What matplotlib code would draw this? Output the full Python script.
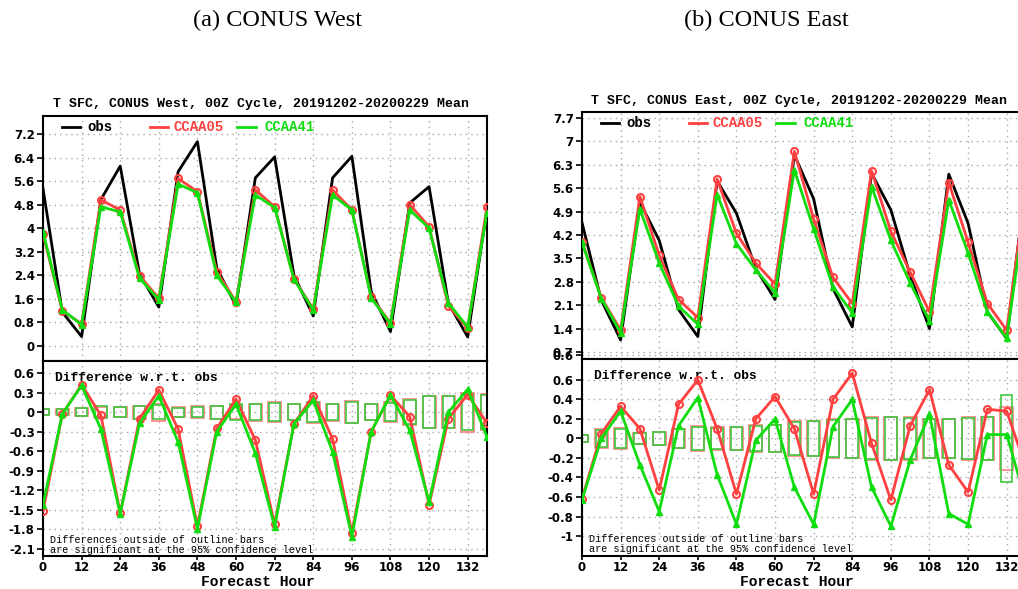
import numpy as np
import matplotlib
matplotlib.use("Agg")
import matplotlib.pyplot as plt
from matplotlib.patches import Rectangle

plt.rcParams['axes.unicode_minus'] = False

# ---------------- data ----------------
hours = [0, 6, 12, 18, 24, 30, 36, 42, 48, 54, 60, 66, 72, 78, 84, 90,
         96, 102, 108, 114, 120, 126, 132, 138]
xticks = [0, 12, 24, 36, 48, 60, 72, 84, 96, 108, 120, 132]

# CONUS West
west_obs = [5.35, 1.15, 0.32, 4.97, 6.11, 2.45, 1.32, 5.92, 6.94, 2.65, 1.36, 5.71,
            6.42, 2.40, 1.02, 5.71, 6.44, 1.85, 0.49, 4.86, 5.41, 1.45, 0.31, 4.65]
west_ccaa05 = [3.80, 1.20, 0.75, 4.96, 4.62, 2.38, 1.62, 5.69, 5.24, 2.52, 1.50, 5.30,
               4.73, 2.27, 1.26, 5.30, 4.62, 1.66, 0.78, 4.80, 4.05, 1.36, 0.61, 4.72]
west_ccaa41 = [3.88, 1.23, 0.72, 4.73, 4.55, 2.30, 1.57, 5.50, 5.20, 2.40, 1.48, 5.13,
               4.70, 2.26, 1.22, 5.13, 4.62, 1.63, 0.75, 4.62, 4.00, 1.46, 0.64, 4.53]
west_diff05 = [-1.52, -0.03, 0.42, -0.05, -1.55, -0.10, 0.34, -0.26, -1.75, -0.25, 0.20, -0.43,
               -1.72, -0.18, 0.25, -0.41, -1.85, -0.30, 0.26, -0.07, -1.42, -0.10, 0.27, -0.17]
west_diff41 = [-1.42, -0.03, 0.41, -0.26, -1.56, -0.17, 0.25, -0.46, -1.79, -0.30, 0.12, -0.63,
               -1.76, -0.18, 0.18, -0.61, -1.91, -0.30, 0.26, -0.28, -1.38, 0.00, 0.35, -0.38]
west_ci05 = [0.05, 0.05, 0.06, 0.08, 0.08, 0.10, 0.13, 0.08, 0.09, 0.10, 0.11, 0.13,
             0.15, 0.12, 0.16, 0.13, 0.17, 0.12, 0.15, 0.20, 0.25, 0.25, 0.30, 0.28]
west_ci41 = [0.05, 0.05, 0.06, 0.09, 0.08, 0.10, 0.11, 0.07, 0.08, 0.10, 0.12, 0.12,
             0.14, 0.12, 0.15, 0.12, 0.16, 0.12, 0.14, 0.18, 0.24, 0.24, 0.28, 0.26]
west_yticks_top = [0, 0.8, 1.6, 2.4, 3.2, 4, 4.8, 5.6, 6.4, 7.2]
west_yticks_bot = [0.6, 0.3, 0, -0.3, -0.6, -0.9, -1.2, -1.5, -1.8, -2.1]

# CONUS East
east_obs = [4.57, 2.25, 1.06, 5.18, 4.04, 1.97, 1.16, 5.82, 4.85, 3.20, 2.27, 6.60,
            5.28, 2.60, 1.45, 6.05, 4.95, 2.99, 1.40, 6.02, 4.55, 1.90, 1.10, 5.80]
east_ccaa05 = [3.99, 2.33, 1.35, 5.35, 3.59, 2.27, 1.73, 5.87, 4.25, 3.36, 2.73, 6.70,
               4.68, 2.93, 2.15, 6.12, 4.31, 3.09, 1.90, 5.77, 3.98, 2.15, 1.35, 5.60]
east_ccaa41 = [3.98, 2.30, 1.28, 4.98, 3.36, 2.07, 1.53, 5.41, 3.94, 3.16, 2.47, 6.15,
               4.38, 2.65, 1.87, 5.65, 4.04, 2.76, 1.63, 5.25, 3.66, 1.90, 1.11, 5.20]
east_diff05 = [-0.62, 0.05, 0.33, 0.10, -0.53, 0.35, 0.60, 0.10, -0.57, 0.20, 0.43, 0.10,
               -0.57, 0.40, 0.67, -0.05, -0.63, 0.13, 0.50, -0.27, -0.55, 0.30, 0.28, -0.30]
east_diff41 = [-0.63, 0.00, 0.28, -0.27, -0.75, 0.13, 0.42, -0.37, -0.88, -0.02, 0.20, -0.50,
               -0.88, 0.12, 0.40, -0.50, -0.90, -0.22, 0.25, -0.77, -0.88, 0.04, 0.04, -0.65]
east_ci05 = [0.04, 0.10, 0.11, 0.06, 0.07, 0.10, 0.13, 0.12, 0.12, 0.14, 0.14, 0.18,
             0.18, 0.20, 0.20, 0.22, 0.22, 0.22, 0.20, 0.20, 0.22, 0.22, 0.32, 0.30]
east_ci41 = [0.04, 0.09, 0.10, 0.06, 0.07, 0.10, 0.12, 0.11, 0.12, 0.13, 0.14, 0.17,
             0.18, 0.19, 0.20, 0.21, 0.22, 0.21, 0.20, 0.20, 0.21, 0.22, 0.45, 0.35]
east_yticks_top = [0.6, 0.7, 1.4, 2.1, 2.8, 3.5, 4.2, 4.9, 5.6, 6.3, 7, 7.7]
east_yticks_bot = [0.6, 0.4, 0.2, 0, -0.2, -0.4, -0.6, -0.8, -1]

# ---------------- style ----------------
W, H = 1018, 589
RED = '#ff4040'
GREEN = '#10dd10'
RED_BOX = '#ff8080'
GREEN_BOX = '#40c840'
MONO = 'Liberation Mono'
TICKFONT = dict(family='DejaVu Sans', weight='bold', size=8.5)

fig = plt.figure(figsize=(W / 100, H / 100), dpi=100)


def ax_at(x0, x1, y0, y1):
    return fig.add_axes([x0 / W, 1 - y1 / H, (x1 - x0) / W, (y1 - y0) / H])


def style(ax, yticks, ylim, showx):
    ax.set_xlim(0, 138)
    ax.set_ylim(*ylim)
    ax.set_xticks(xticks)
    ax.set_yticks(yticks)
    ax.set_yticklabels(['%g' % v for v in yticks], fontdict=TICKFONT)
    if showx:
        ax.set_xticklabels([str(v) for v in xticks], fontdict=TICKFONT)
    else:
        ax.tick_params(axis='x', length=0, labelbottom=False)
    ax.tick_params(axis='y', length=4, width=1.2, pad=2, direction='out')
    ax.tick_params(axis='x', length=3, width=1.2, pad=0.5, direction='out')
    ax.grid(True, color='#a8a8a8', linestyle=(0, (1, 3)), linewidth=1.0)
    for s in ax.spines.values():
        s.set_linewidth(1.5)
        s.set_color('black')
    ax.set_axisbelow(True)


def legend(ax):
    y = 0.955
    fs = 10
    ax.plot([0.043, 0.083], [y, y], color='black', lw=2, transform=ax.transAxes, clip_on=False)
    ax.text(0.099, y, 'obs', color='black', family=MONO, weight='bold', size=fs,
            va='center', transform=ax.transAxes)
    ax.plot([0.241, 0.282], [y, y], color=RED, lw=2, transform=ax.transAxes, clip_on=False)
    ax.text(0.293, y, 'CCAA05', color=RED, family=MONO, weight='bold', size=fs,
            va='center', transform=ax.transAxes)
    ax.plot([0.437, 0.480], [y, y], color=GREEN, lw=2, transform=ax.transAxes, clip_on=False)
    ax.text(0.499, y, 'CCAA41', color=GREEN, family=MONO, weight='bold', size=fs,
            va='center', transform=ax.transAxes)


def panel(x0, ytop, ymid, ybot, obs, m05, m41, d05, d41, ci05, ci41,
          yt_top, ylim_top, yt_bot, ylim_bot, title, tx, ty, xlx):
    ax1 = ax_at(x0, x0 + 444, ytop, ymid)
    ax2 = ax_at(x0, x0 + 444, ymid, ybot)
    style(ax1, yt_top, ylim_top, False)
    style(ax2, yt_bot, ylim_bot, True)

    ax1.plot(hours, obs, color='black', lw=2, zorder=3)
    ax1.plot(hours, m05, color=RED, lw=2, marker='o', ms=5, mfc='none', mec=RED, mew=1.5, zorder=4)
    ax1.plot(hours, m41, color=GREEN, lw=2, marker='^', ms=5, mfc=GREEN, mec=GREEN, zorder=5)
    legend(ax1)

    for h, c in zip(hours, ci05):
        ax2.add_patch(Rectangle((h - 2.0, -c), 4.0, 2 * c, fill=False, ec=RED_BOX, lw=1.2, zorder=2))
    for h, c in zip(hours, ci41):
        ax2.add_patch(Rectangle((h - 1.8, -c), 3.6, 2 * c, fill=False, ec=GREEN_BOX, lw=1.2, zorder=2))
    ax2.plot(hours, d05, color=RED, lw=2, marker='o', ms=5, mfc='none', mec=RED, mew=1.5, zorder=4)
    ax2.plot(hours, d41, color=GREEN, lw=2, marker='^', ms=5, mfc=GREEN, mec=GREEN, zorder=5)

    ax2.text(0.027, 0.913, 'Difference w.r.t. obs', family=MONO, weight='bold', size=9.3,
             va='center', transform=ax2.transAxes)
    ax2.text(0.016, 0.084, 'Differences outside of outline bars', family=MONO, size=7.3,
             va='center', transform=ax2.transAxes)
    ax2.text(0.016, 0.033, 'are significant at the 95% confidence level', family=MONO, size=7.3,
             va='center', transform=ax2.transAxes)

    fig.text(xlx / W, 1 - 582 / H, 'Forecast Hour', family=MONO, weight='bold', size=10.5,
             ha='center', va='center')
    fig.text(tx / W, 1 - ty / H, title, family=MONO, weight='bold', size=9.5,
             ha='center', va='center')


panel(43, 116, 361, 556, west_obs, west_ccaa05, west_ccaa41, west_diff05, west_diff41,
      west_ci05, west_ci41, west_yticks_top, (-0.51, 7.81), west_yticks_bot, (-2.207, 0.784),
      'T SFC, CONUS West, 00Z Cycle, 20191202-20200229 Mean', 261, 104, 258)
panel(582, 112, 359, 556, east_obs, east_ccaa05, east_ccaa41, east_diff05, east_diff41,
      east_ci05, east_ci41, east_yticks_top, (0.49, 7.88), east_yticks_bot, (-1.205, 0.815),
      'T SFC, CONUS East, 00Z Cycle, 20191202-20200229 Mean', 799, 101, 797)

fig.text(278 / W, 1 - 20 / H, '(a) CONUS West', family='Liberation Serif', size=17.5,
         ha='center', va='center')
fig.text(766 / W, 1 - 20 / H, '(b) CONUS East', family='Liberation Serif', size=17.5,
         ha='center', va='center')

fig.savefig('out.png', dpi=100)
